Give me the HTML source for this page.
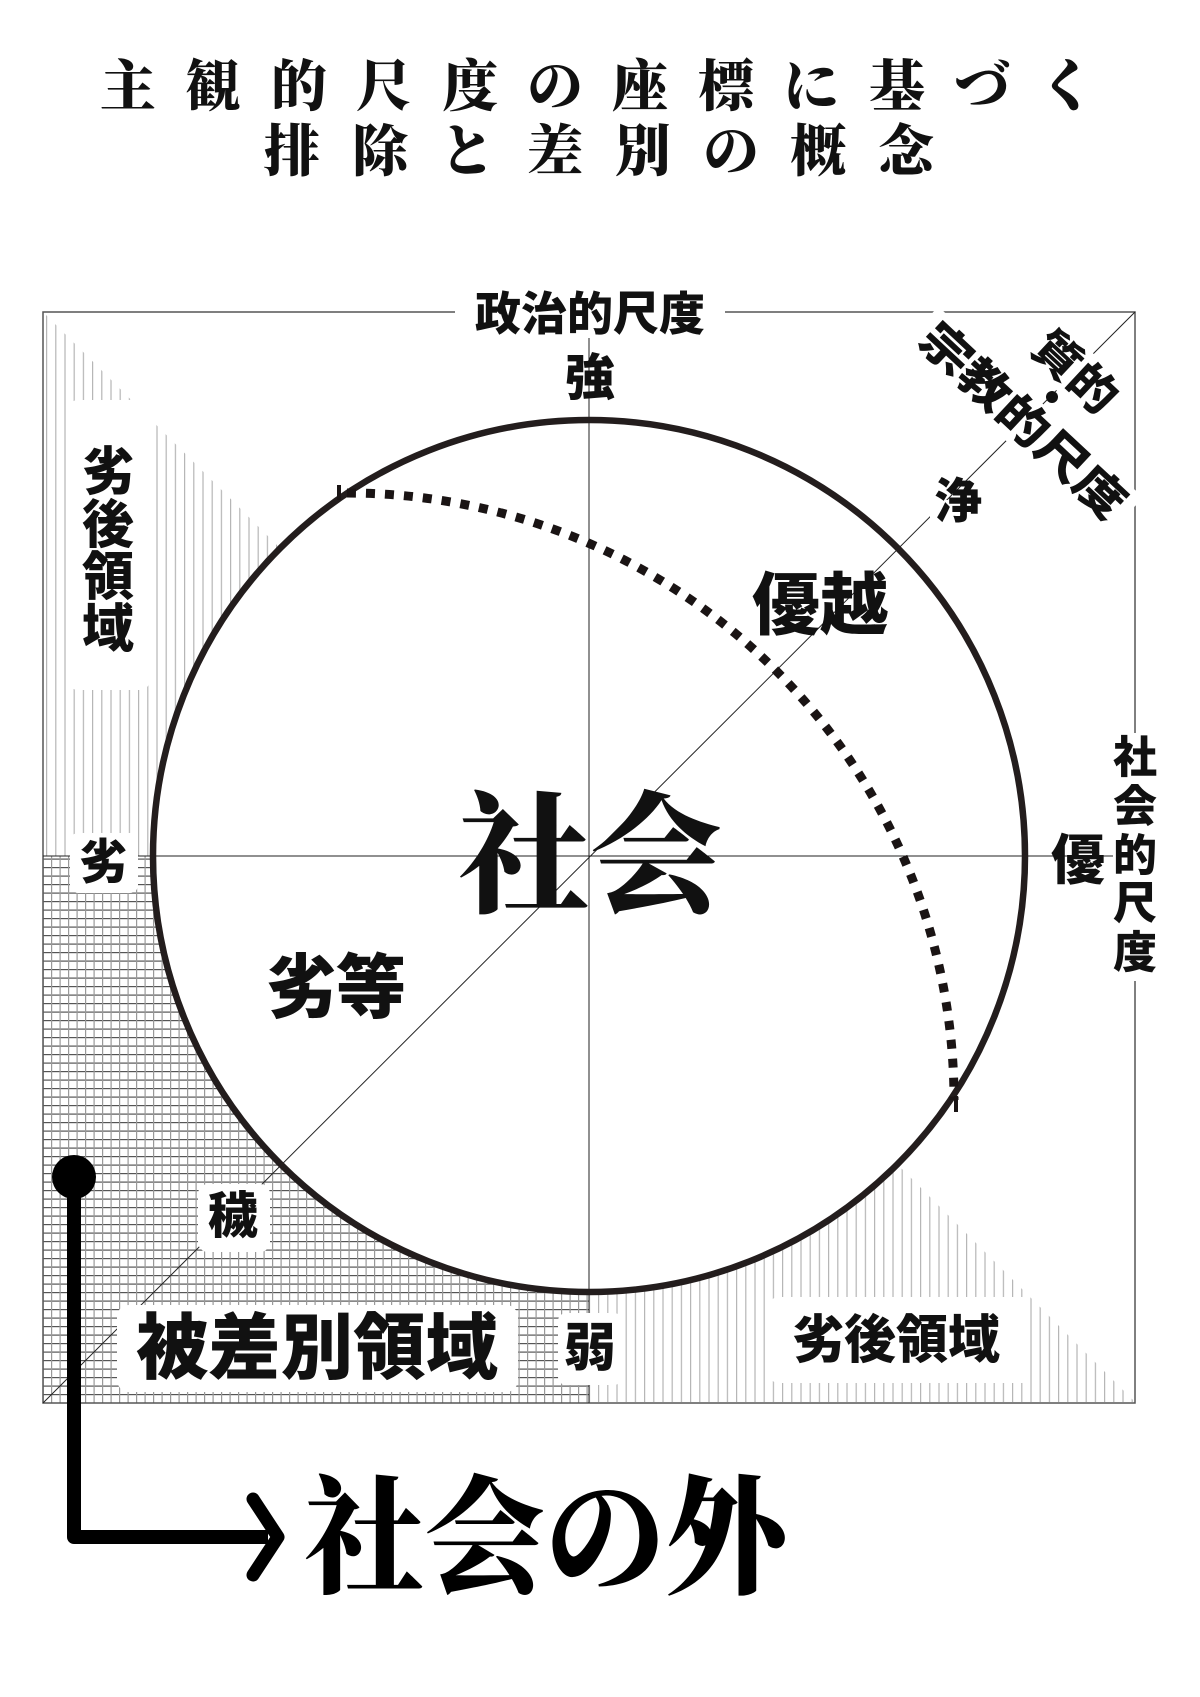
<!DOCTYPE html>
<html><head><meta charset="utf-8">
<style>
html,body{margin:0;padding:0;background:#fff;}
svg{display:block;}
.t{font-family:"Liberation Serif","Noto Serif CJK SC",serif;font-weight:900;}
.g{font-family:"Liberation Sans","Noto Sans CJK JP",sans-serif;font-weight:900;}
</style></head>
<body>
<svg width="1200" height="1697" viewBox="0 0 1200 1697" xmlns="http://www.w3.org/2000/svg">
<defs>
<pattern id="vl" width="9.2" height="10" patternUnits="userSpaceOnUse">
<rect x="0" y="0" width="1.2" height="10" fill="#b5b5b5"/>
</pattern>
<pattern id="grid" width="8.5" height="8.5" patternUnits="userSpaceOnUse">
<rect x="0" y="0" width="8.5" height="1.2" fill="#555"/>
<rect x="0" y="0" width="1.2" height="8.5" fill="#999"/>
</pattern>
</defs>

<!-- title -->
<g class="t" font-size="56" text-anchor="middle" dominant-baseline="central" fill="#111">
<text x="128" y="88">主</text><text x="213" y="88">観</text><text x="299" y="88">的</text><text x="384" y="88">尺</text><text x="470" y="88">度</text><text x="555" y="88">の</text><text x="640" y="88">座</text><text x="726" y="88">標</text><text x="811" y="88">に</text><text x="897" y="88">基</text><text x="982" y="88">づ</text><text x="1067" y="88">く</text>
<text x="292" y="153">排</text><text x="380" y="153">除</text><text x="467" y="153">と</text><text x="555" y="153">差</text><text x="643" y="153">別</text><text x="731" y="153">の</text><text x="818" y="153">概</text><text x="906" y="153">念</text>
</g>

<!-- hatching -->
<polygon points="43,312 589,856 43,856" fill="url(#vl)"/>
<polygon points="589,856 1135,1402 589,1402" fill="url(#vl)"/>
<rect x="43" y="856" width="546" height="547" fill="url(#grid)"/>

<!-- box -->
<rect x="43" y="312" width="1092" height="1091" fill="none" stroke="#555" stroke-width="1.5"/>
<circle cx="589" cy="856" r="436" fill="#fff"/>
<line x1="589" y1="312" x2="589" y2="1403" stroke="#222" stroke-width="1"/>
<line x1="43" y1="856" x2="1135" y2="856" stroke="#222" stroke-width="1"/>
<line x1="43" y1="1403" x2="1135" y2="312" stroke="#222" stroke-width="1"/>

<!-- label backgrounds -->
<g fill="#fff">
<rect x="455" y="290" width="270" height="48" rx="6"/>
<rect x="68" y="400" width="82" height="290" rx="10"/>
<rect x="70" y="833" width="68" height="60" rx="8"/>
<rect x="198" y="1184" width="72" height="68" rx="10"/>
<rect x="117" y="1305" width="401" height="87" rx="12"/>
<rect x="558" y="1313" width="64" height="72" rx="8"/>
<rect x="770" y="1297" width="260" height="86" rx="8"/>
<rect x="1113" y="733" width="44" height="248"/>
<rect x="930" y="500" width="50" height="50"/>
<g transform="translate(1023,421) rotate(43)"><rect x="-140" y="-26" width="280" height="52"/></g>
<g transform="translate(1075,372) rotate(43)"><rect x="-55" y="-26" width="110" height="52"/></g>
</g>

<circle cx="589" cy="856" r="436" fill="none" stroke="#231d1d" stroke-width="6.5"/>

<path d="M 347 493 A 607 607 0 0 1 954 1100" fill="none" stroke="#1a1414" stroke-width="9" stroke-dasharray="9 10"/>
<line x1="339" y1="485" x2="339" y2="500" stroke="#1a1414" stroke-width="4"/>
<line x1="956" y1="1096" x2="956" y2="1112" stroke="#1a1414" stroke-width="4"/>

<g class="g" text-anchor="middle" dominant-baseline="central" fill="#111">
<text x="590" y="314" font-size="46">政治的尺度</text>
<text x="590" y="378" font-size="50">強</text>
<text x="958" y="502" font-size="48">浄</text>
<text x="820" y="606" font-size="68">優越</text>
<text x="1078" y="861" font-size="54">優</text>
<text x="1135" y="758" font-size="44">社</text>
<text x="1135" y="807" font-size="44">会</text>
<text x="1135" y="856" font-size="44">的</text>
<text x="1135" y="904" font-size="44">尺</text>
<text x="1135" y="953" font-size="44">度</text>
<text x="108" y="473" font-size="52">劣</text>
<text x="108" y="526" font-size="52">後</text>
<text x="108" y="578" font-size="52">領</text>
<text x="108" y="630" font-size="52">域</text>
<text x="103" y="863" font-size="48">劣</text>
<text x="336" y="988" font-size="70">劣等</text>
<text x="233" y="1216" font-size="50">穢</text>
<text x="317" y="1349" font-size="72" textLength="362" lengthAdjust="spacingAndGlyphs">被差別領域</text>
<text x="590" y="1349" font-size="52">弱</text>
<text x="896" y="1341" font-size="52">劣後領域</text>
<g transform="translate(1023,421) rotate(43)"><text x="0" y="0" font-size="46" textLength="262" lengthAdjust="spacingAndGlyphs">宗教的尺度</text></g>
<g transform="translate(1075,372) rotate(43)"><text x="0" y="0" font-size="46" textLength="96" lengthAdjust="spacingAndGlyphs">質的</text></g>
</g>
<circle cx="1052" cy="397" r="6" fill="#111"/>

<text class="t" x="590" y="858" font-size="132" text-anchor="middle" dominant-baseline="central" fill="#111">社会</text>

<circle cx="74" cy="1177" r="22" fill="#000"/>
<path d="M 74 1177 L 74 1537 L 268 1537" fill="none" stroke="#000" stroke-width="14" stroke-linejoin="round"/>
<path d="M 253 1499 L 278 1537 L 253 1575" fill="none" stroke="#000" stroke-width="13" stroke-linecap="round" stroke-linejoin="round"/>

<text class="t" x="545" y="1540" font-size="128" text-anchor="middle" dominant-baseline="central" fill="#000" textLength="482" lengthAdjust="spacingAndGlyphs">社会の外</text>
</svg>
</body></html>
